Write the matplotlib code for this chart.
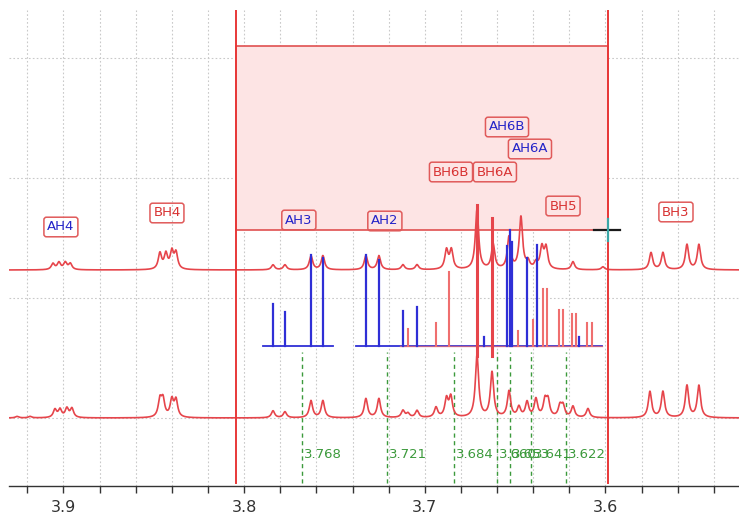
import numpy as np
import matplotlib
matplotlib.use("Agg")
import matplotlib.pyplot as plt
from matplotlib.patches import Rectangle

# ---- peak lists (ppm, height) ----
# fitted/simulated spectrum (upper trace)
top_ppm = [3.9058, 3.9025, 3.8990, 3.8962,
           3.8466, 3.8433, 3.8400, 3.8377,
           3.7840, 3.7774, 3.7630, 3.7564,
           3.7326, 3.7254, 3.7121, 3.7043,
           3.6880, 3.6853, 3.6711, 3.6622,
           3.6534, 3.6468, 3.6429, 3.6385,
           3.6352, 3.6329, 3.6180, 3.6014,
           3.5748, 3.5682, 3.5549, 3.5483]
top_h = [6, 7, 7, 6,
         16, 15, 17, 16,
         5, 5, 14, 14,
         14, 14, 5, 5,
         19, 19, 60, 25,
         32, 52, 7, 6,
         21, 21, 8, 3,
         17, 17, 25, 25]

# measured spectrum (lower trace)
bot_ppm = [3.9257, 3.9185,
           3.9047, 3.9019, 3.8981, 3.8953,
           3.8466, 3.8449, 3.8400, 3.8377,
           3.7840, 3.7774, 3.7630, 3.7564,
           3.7326, 3.7254, 3.7121, 3.7093, 3.7043,
           3.6938, 3.6880, 3.6856, 3.6711, 3.6628,
           3.6534, 3.6479, 3.6434, 3.6385,
           3.6335, 3.6318, 3.6252, 3.6235,
           3.6180, 3.6097,
           3.5754, 3.5682, 3.5549, 3.5483]
bot_h = [1.5, 1.5,
         8, 8, 9, 9,
         17, 17, 17, 17,
         7, 6, 17, 17,
         19, 19, 7, 4, 7,
         10, 18, 20, 62, 45,
         26, 10, 15, 18,
         16, 16, 11, 11,
         11, 9,
         26, 26, 32, 32]

# assignment sticks
blue_ppm = [3.7840, 3.7774, 3.7630, 3.7564, 3.7326, 3.7254, 3.7121, 3.7043,
            3.6673, 3.6546, 3.6531, 3.6518, 3.6434, 3.6379, 3.6147]
blue_h = [42, 34, 91, 88, 91, 86, 35, 39,
          9, 100, 116, 104, 88, 101, 9]
red_ppm = [3.7093, 3.6938, 3.6867, 3.6711, 3.6628, 3.6483, 3.6401,
           3.6346, 3.6324, 3.6257, 3.6235, 3.6186, 3.6164, 3.6102, 3.6075]
red_h = [17, 23, 74, 141, 128, 15, 26,
         57, 57, 36, 36, 32, 32, 23, 23]
blue_base_ranges = [(3.7896, 3.7508), (3.7381, 3.6019)]
red_base_ranges = [(3.7138, 3.6019)]

# marked shifts
marks = [3.768, 3.721, 3.684, 3.660, 3.653, 3.641, 3.622]

# assignment labels: (text, ppm, y, colour)
labels = [("AH4", 3.9014, 259, "blue"), ("BH4", 3.8427, 273, "red"),
          ("AH3", 3.7697, 266, "blue"), ("AH2", 3.7221, 265, "blue"),
          ("BH6B", 3.6855, 314, "red"), ("BH6A", 3.6612, 314, "red"),
          ("AH6B", 3.6545, 359, "blue"), ("AH6A", 3.6418, 337, "blue"),
          ("BH5", 3.6235, 280, "red"), ("BH3", 3.5610, 274, "red")]

# selection window
sel_left, sel_right = 3.8045, 3.5986
sel_bottom, sel_top = 256, 440

# trace offsets
top_base, bot_base, stick_base = 216, 68, 140

xlim = (3.9304, 3.5261)
ylim = (0, 476)

RED = "#e6454b"
BLUE = "#2f2fd6"
STICK_RED = "#ef6f6f"
GREEN = "#3c9a3c"


def lorentz_sum(x, centres, heights, hw=0.0011):
    y = np.zeros_like(x)
    for c, h in zip(centres, heights):
        y += h / (1.0 + ((x - c) / hw) ** 2)
    return y


fig = plt.figure(figsize=(7.39, 5.17), dpi=100)
ax = fig.add_axes([8.5 / 739, 1 - 486 / 517, 1 - 8.5 / 739, (486 - 10) / 517])
ax.set_xlim(*xlim)
ax.set_ylim(*ylim)

# grid
for gx in np.arange(3.54, 3.94, 0.02):
    ax.axvline(gx, color="#c9c9c9", lw=0.8, ls=(0, (1.5, 2)), zorder=0)
for gy in [428, 308, 188, 68]:
    ax.axhline(gy, color="#c9c9c9", lw=0.8, ls=(0, (1.5, 2)), zorder=0)

# selection window
ax.add_patch(Rectangle((sel_left, sel_bottom), sel_right - sel_left,
                       sel_top - sel_bottom, facecolor="#fde4e4",
                       edgecolor="#e05050", lw=1.2, zorder=1))

# traces
x = np.linspace(xlim[0], xlim[1], 6000)
ax.plot(x, top_base + lorentz_sum(x, top_ppm, top_h), color=RED, lw=1.2, zorder=3)
ax.plot(x, bot_base + lorentz_sum(x, bot_ppm, bot_h), color=RED, lw=1.2, zorder=3)

# sticks
for a, b in blue_base_ranges:
    ax.plot([a, b], [stick_base, stick_base], color=BLUE, lw=1.3, zorder=4)
for a, b in red_base_ranges:
    ax.plot([a, b], [stick_base, stick_base], color=STICK_RED, lw=1.0, alpha=0.7, zorder=4)
for p, h in zip(red_ppm, red_h):
    big = h > 100
    ax.plot([p, p], [stick_base - (10 if big else 0), stick_base + h],
            color=RED if big else STICK_RED, lw=2.2 if big else 1.5, zorder=4)
for p, h in zip(blue_ppm, blue_h):
    ax.plot([p, p], [stick_base, stick_base + h], color=BLUE, lw=1.6, zorder=5)

# marked shifts
for m in marks:
    ax.plot([m, m], [3, 134], color=GREEN, lw=1.0, ls=(0, (3, 2.5)), zorder=2)
    ax.text(m - 0.0012, 31, f"{m:.3f}", color=GREEN, fontsize=9.5,
            ha="left", va="center", zorder=6)

# assignment labels
for t, p, yy, c in labels:
    ax.text(p, yy, t, color="#2424c8" if c == "blue" else "#d83232",
            fontsize=9.5, ha="center", va="center", zorder=7,
            bbox=dict(boxstyle="round,pad=0.25,rounding_size=0.2",
                      fc="none", ec="#e05a5a", lw=1.1))

# window edges
for v in (sel_left, sel_right):
    ax.plot([v, v], [3, 476], color="#e83838", lw=1.4, zorder=8)

# cursor cross
ax.plot([sel_right + 0.0075, sel_right - 0.0065], [sel_bottom, sel_bottom],
        color="#1a1a1a", lw=1.6, zorder=9)
ax.plot([sel_right, sel_right], [sel_bottom - 11, sel_bottom + 11],
        color="#3aa6a6", lw=1.6, zorder=9)

# axes styling
for s in ("left", "right", "top"):
    ax.spines[s].set_visible(False)
ax.spines["bottom"].set_color("#333333")
ax.spines["bottom"].set_linewidth(1.0)
ax.set_yticks([])
ax.set_xticks([3.9, 3.8, 3.7, 3.6])
ax.set_xticklabels(["3.9", "3.8", "3.7", "3.6"])
ax.set_xticks(np.arange(3.54, 3.93, 0.02), minor=True)
ax.tick_params(axis="x", which="both", direction="out", length=5,
               color="#333333", width=1.0, labelsize=11.5,
               labelcolor="#333333", pad=5)

fig.savefig("out.png", dpi=100)
